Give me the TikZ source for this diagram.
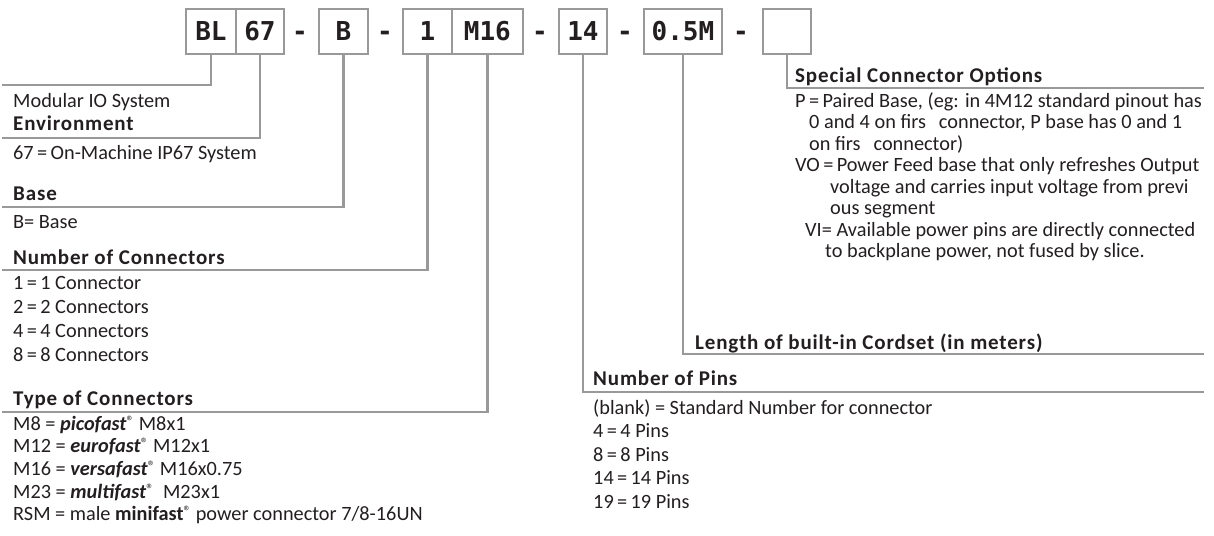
\documentclass[tikz,border=0pt]{standalone}
\usepackage{fontspec}
\setmainfont{Carlito}
\newfontfamily\headfont{Carlito}[LetterSpace=4]
\newfontfamily\codefont{DejaVu Sans Mono}
\usetikzlibrary{positioning}
\definecolor{rulegray}{gray}{0.60}
\definecolor{ink}{HTML}{231F20}
\newcommand\regmark{\raisebox{4pt}{\fontsize{15}{15}\selectfont ®}}

\begin{document}
\begin{tikzpicture}[x=1pt, y=-1pt, every node/.style={font=\fontsize{20.3}{22}\selectfont, text=ink, inner sep=0pt},
    codebox/.style={draw=rulegray, line width=1.8pt, minimum width=#1, minimum height=45pt, anchor=north west, font=\codefont\bfseries\fontsize{26}{26}\selectfont},
    sep/.style={anchor=base, font=\codefont\bfseries\fontsize{26}{26}\selectfont},
    lead/.style={rulegray, line width=2.2pt},
    head/.style={anchor=base west, font=\headfont\bfseries\fontsize{21}{22}\selectfont},
    item/.style={anchor=base west}]
  \useasboundingbox (0,0) rectangle (1214,535);

  \node[codebox=50] (bl) at (185,8) {BL};
  \node[codebox=48] (env) at (235,8) {67};
  \node[sep] (d1) at (300,41) {-};
  \node[codebox=49] (base) at (318,8) {B};
  \node[sep] (d2) at (385,41) {-};
  \node[codebox=49] (num) at (402,8) {1};
  \node[codebox=71] (type) at (451,8) {M16};
  \node[sep] (d3) at (540,41) {-};
  \node[codebox=48] (pins) at (558,8) {14};
  \node[sep] (d4) at (625,41) {-};
  \node[codebox=78] (len) at (643,8) {0.5M};
  \node[sep] (d5) at (741,41) {-};
  \node[codebox=48] (opt) at (762,8) {};

  \coordinate (blend) at (2,85);
  \coordinate (envend) at (2,138);
  \coordinate (baseend) at (2,207);
  \coordinate (numend) at (2,270);
  \coordinate (typeend) at (2,412);
  \coordinate (pinsend) at (1204,392);
  \coordinate (lenend) at (1204,354);
  \coordinate (optend) at (1204,88);
  \foreach \n in {bl,env,base,num,type,pins,len,opt}
    \draw[lead] (\n.south) |- (\n end);

  \node[item] (sys) at (13,107) {Modular IO System};
  \node[head] (envhead) at (13,130) {Environment};
  \node[item] (envval) at (13,159) {67\,=\,On-Machine IP67 System};
  \node[head] (basehead) at (13,200) {Base};
  \node[item] (baseval) at (13,228) {B= Base};
  \node[head] (numhead) at (13,264) {Number of Connectors};
  \foreach \i/\t in {0/{1\,=\,1 Connector}, 1/{2\,=\,2 Connectors}, 2/{4\,=\,4 Connectors}, 3/{8\,=\,8 Connectors}}
    \node[item] (numval\i) at (13,289+24*\i) {\t};

  \node[head] (typehead) at (13,405) {Type of Connectors};
  \foreach \i/\t in {0/{M8 = \textbf{\itshape picofast}\regmark{} M8x1},
                     1/{M12 = \textbf{\itshape eurofast}\regmark{} M12x1},
                     2/{M16 = \textbf{\itshape versafast}\regmark{} M16x0.75},
                     3/{M23 = \textbf{\itshape multifast}\regmark{}\ \ M23x1},
                     4/{RSM = male \textbf{minifast}\regmark{} power connector 7/8-16UN}}
    \node[item] (typeval\i) at (13,430+22.7*\i) {\t};

  \node[head] (pinshead) at (593,385) {Number of Pins};
  \foreach \i/\t in {0/{(blank) = Standard Number for connector}, 1/{4\,=\,4 Pins}, 2/{8\,=\,8 Pins}, 3/{14\,=\,14 Pins}, 4/{19\,=\,19 Pins}}
    \node[item] (pinsval\i) at (593,414+23.5*\i) {\t};

  \node[head] (lenhead) at (695,349) {Length of built-in Cordset (in meters)};

  \node[head] (opthead) at (795,82) {Special Connector Options};
  \foreach \i/\x/\y/\t in {0/795/107/{P\,=\,Paired Base, (eg: in 4M12 standard pinout has},
                           1/809/128/{0 and 4 on firs\hspace{13pt}connector, P base has 0 and 1},
                           2/809/150/{on firs\hspace{13pt}connector)},
                           3/795/171/{VO\,=\,Power Feed base that only refreshes Output},
                           4/830/193/{voltage and carries input voltage from previ},
                           5/830/214/{ous segment},
                           6/805/236/{VI= Available power pins are directly connected},
                           7/825/257/{to backplane power, not fused by slice.}}
    \node[item] (optval\i) at (\x,\y) {\t};
\end{tikzpicture}
\end{document}
